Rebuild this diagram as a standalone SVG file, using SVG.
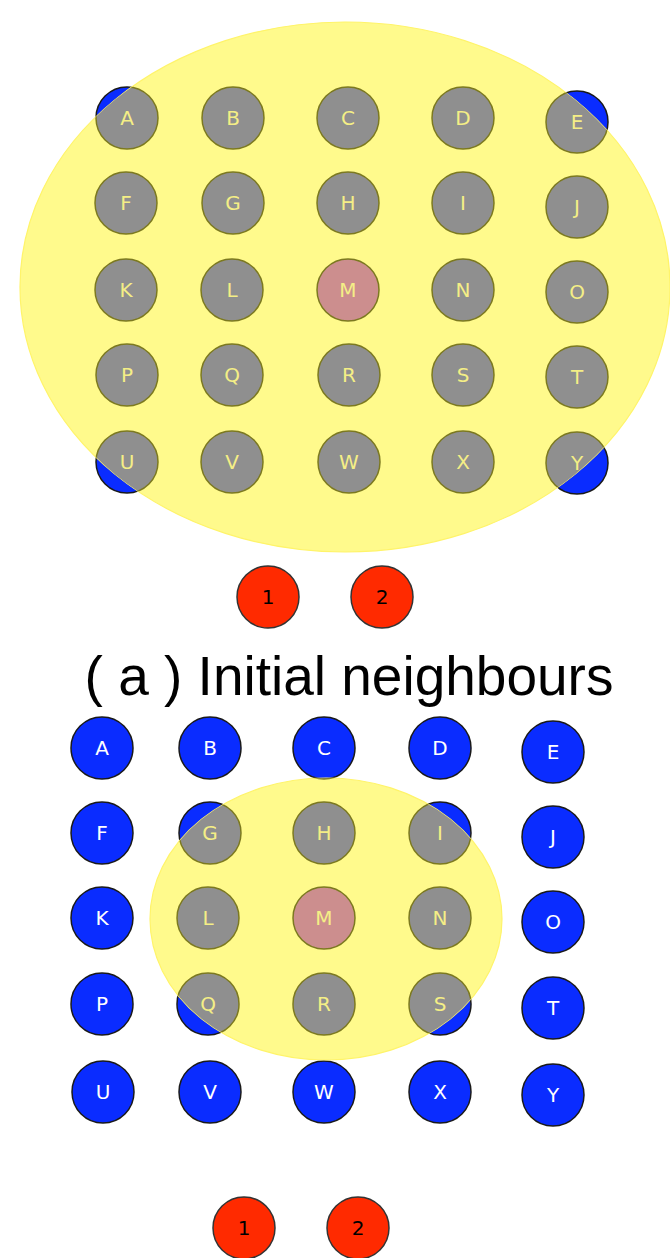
<svg xmlns="http://www.w3.org/2000/svg" width="670" height="1258" viewBox="0 0 670 1258">
  <style>
    .n circle { fill: var(--fill, #0a2cff); stroke: var(--edge, #1a1a1a); stroke-width: 1.5; }
    .n.m circle { fill: var(--mfill, #ff2a00); }
    .n text { fill: var(--ink, #ffffff); font-family: "DejaVu Sans", sans-serif; font-size: 20px; text-anchor: middle; dominant-baseline: central; }
    .r circle { fill: #ff2a00; stroke: #333333; stroke-width: 1.5; }
    .r text { fill: #000000; font-family: "DejaVu Sans", sans-serif; font-size: 20px; text-anchor: middle; dominant-baseline: central; }
    .zone { fill: #fffa8c; stroke: #fff46a; stroke-width: 1.2; }
    .covered { --fill: #8f8f8f; --mfill: #cc8e8e; --edge: #7c7920; --ink: #f4ee86; }
    .title { font-family: "Liberation Sans", Arial, sans-serif; font-size: 55px; fill: #000000; text-anchor: middle; }
  </style>
  <defs>
    <clipPath id="clip-a"><ellipse cx="345" cy="287" rx="325" ry="265"/></clipPath>
    <clipPath id="clip-b"><ellipse cx="326" cy="919" rx="176" ry="141"/></clipPath>
  </defs>

  <!-- Panel (a): 5x5 grid, whole neighbourhood -->
  <g id="a-grid">
    <g id="a-A" class="n"><circle cx="127" cy="118" r="31"/><text x="127" y="118">A</text></g>
    <g id="a-B" class="n"><circle cx="233" cy="118" r="31"/><text x="233" y="118">B</text></g>
    <g id="a-C" class="n"><circle cx="348" cy="118" r="31"/><text x="348" y="118">C</text></g>
    <g id="a-D" class="n"><circle cx="463" cy="118" r="31"/><text x="463" y="118">D</text></g>
    <g id="a-E" class="n"><circle cx="577" cy="122" r="31"/><text x="577" y="122">E</text></g>
    <g id="a-F" class="n"><circle cx="126" cy="203" r="31"/><text x="126" y="203">F</text></g>
    <g id="a-G" class="n"><circle cx="233" cy="203" r="31"/><text x="233" y="203">G</text></g>
    <g id="a-H" class="n"><circle cx="348" cy="203" r="31"/><text x="348" y="203">H</text></g>
    <g id="a-I" class="n"><circle cx="463" cy="203" r="31"/><text x="463" y="203">I</text></g>
    <g id="a-J" class="n"><circle cx="577" cy="207" r="31"/><text x="577" y="207">J</text></g>
    <g id="a-K" class="n"><circle cx="126" cy="290" r="31"/><text x="126" y="290">K</text></g>
    <g id="a-L" class="n"><circle cx="232" cy="290" r="31"/><text x="232" y="290">L</text></g>
    <g id="a-M" class="n m"><circle cx="348" cy="290" r="31"/><text x="348" y="290">M</text></g>
    <g id="a-N" class="n"><circle cx="463" cy="290" r="31"/><text x="463" y="290">N</text></g>
    <g id="a-O" class="n"><circle cx="577" cy="292" r="31"/><text x="577" y="292">O</text></g>
    <g id="a-P" class="n"><circle cx="127" cy="375" r="31"/><text x="127" y="375">P</text></g>
    <g id="a-Q" class="n"><circle cx="232" cy="375" r="31"/><text x="232" y="375">Q</text></g>
    <g id="a-R" class="n"><circle cx="349" cy="375" r="31"/><text x="349" y="375">R</text></g>
    <g id="a-S" class="n"><circle cx="463" cy="375" r="31"/><text x="463" y="375">S</text></g>
    <g id="a-T" class="n"><circle cx="577" cy="377" r="31"/><text x="577" y="377">T</text></g>
    <g id="a-U" class="n"><circle cx="127" cy="462" r="31"/><text x="127" y="462">U</text></g>
    <g id="a-V" class="n"><circle cx="232" cy="462" r="31"/><text x="232" y="462">V</text></g>
    <g id="a-W" class="n"><circle cx="349" cy="462" r="31"/><text x="349" y="462">W</text></g>
    <g id="a-X" class="n"><circle cx="463" cy="462" r="31"/><text x="463" y="462">X</text></g>
    <g id="a-Y" class="n"><circle cx="577" cy="463" r="31"/><text x="577" y="463">Y</text></g>
  </g>
  <!-- neighbourhood zone, with the nodes inside it shown shaded -->
  <ellipse id="a-zone" class="zone" cx="345" cy="287" rx="325" ry="265"/>
  <use href="#a-grid" class="covered" clip-path="url(#clip-a)"/>
  <g id="a-1" class="r"><circle cx="268" cy="597" r="31"/><text x="268" y="597">1</text></g>
  <g id="a-2" class="r"><circle cx="382" cy="597" r="31"/><text x="382" y="597">2</text></g>

  <text class="title" x="349" y="695">( a ) Initial neighbours</text>

  <!-- Panel (b): 5x5 grid, reduced neighbourhood -->
  <g id="b-grid">
    <g id="b-A" class="n"><circle cx="102" cy="748" r="31"/><text x="102" y="748">A</text></g>
    <g id="b-B" class="n"><circle cx="210" cy="748" r="31"/><text x="210" y="748">B</text></g>
    <g id="b-C" class="n"><circle cx="324" cy="748" r="31"/><text x="324" y="748">C</text></g>
    <g id="b-D" class="n"><circle cx="440" cy="748" r="31"/><text x="440" y="748">D</text></g>
    <g id="b-E" class="n"><circle cx="553" cy="752" r="31"/><text x="553" y="752">E</text></g>
    <g id="b-F" class="n"><circle cx="102" cy="833" r="31"/><text x="102" y="833">F</text></g>
    <g id="b-G" class="n"><circle cx="210" cy="833" r="31"/><text x="210" y="833">G</text></g>
    <g id="b-H" class="n"><circle cx="324" cy="833" r="31"/><text x="324" y="833">H</text></g>
    <g id="b-I" class="n"><circle cx="440" cy="833" r="31"/><text x="440" y="833">I</text></g>
    <g id="b-J" class="n"><circle cx="553" cy="837" r="31"/><text x="553" y="837">J</text></g>
    <g id="b-K" class="n"><circle cx="102" cy="918" r="31"/><text x="102" y="918">K</text></g>
    <g id="b-L" class="n"><circle cx="208" cy="918" r="31"/><text x="208" y="918">L</text></g>
    <g id="b-M" class="n m"><circle cx="324" cy="918" r="31"/><text x="324" y="918">M</text></g>
    <g id="b-N" class="n"><circle cx="440" cy="918" r="31"/><text x="440" y="918">N</text></g>
    <g id="b-O" class="n"><circle cx="553" cy="922" r="31"/><text x="553" y="922">O</text></g>
    <g id="b-P" class="n"><circle cx="102" cy="1004" r="31"/><text x="102" y="1004">P</text></g>
    <g id="b-Q" class="n"><circle cx="208" cy="1004" r="31"/><text x="208" y="1004">Q</text></g>
    <g id="b-R" class="n"><circle cx="324" cy="1004" r="31"/><text x="324" y="1004">R</text></g>
    <g id="b-S" class="n"><circle cx="440" cy="1004" r="31"/><text x="440" y="1004">S</text></g>
    <g id="b-T" class="n"><circle cx="553" cy="1008" r="31"/><text x="553" y="1008">T</text></g>
    <g id="b-U" class="n"><circle cx="103" cy="1092" r="31"/><text x="103" y="1092">U</text></g>
    <g id="b-V" class="n"><circle cx="210" cy="1092" r="31"/><text x="210" y="1092">V</text></g>
    <g id="b-W" class="n"><circle cx="324" cy="1092" r="31"/><text x="324" y="1092">W</text></g>
    <g id="b-X" class="n"><circle cx="440" cy="1092" r="31"/><text x="440" y="1092">X</text></g>
    <g id="b-Y" class="n"><circle cx="553" cy="1095" r="31"/><text x="553" y="1095">Y</text></g>
  </g>
  <ellipse id="b-zone" class="zone" cx="326" cy="919" rx="176" ry="141"/>
  <use href="#b-grid" class="covered" clip-path="url(#clip-b)"/>
  <g id="b-1" class="r"><circle cx="244" cy="1228" r="31"/><text x="244" y="1228">1</text></g>
  <g id="b-2" class="r"><circle cx="358" cy="1228" r="31"/><text x="358" y="1228">2</text></g>

  <!-- no connectors in this figure -->
  <g id="connectors"/>
</svg>
